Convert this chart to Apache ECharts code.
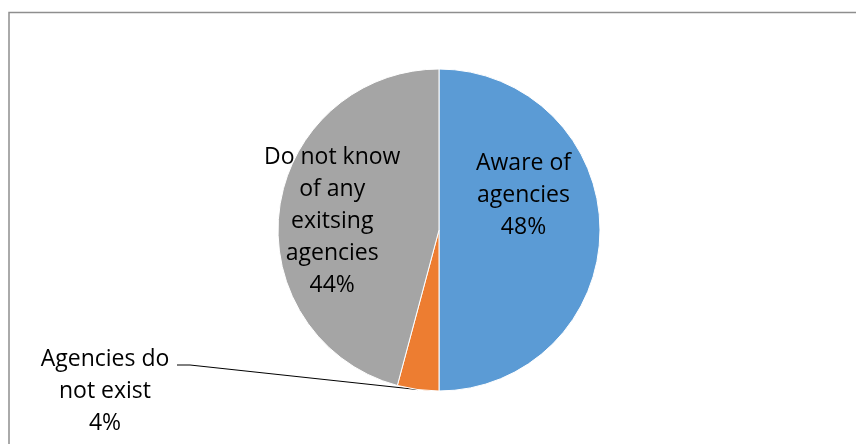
<!DOCTYPE html>
<html>
<head>
<meta charset="utf-8">
<script src="https://cdn.jsdelivr.net/npm/echarts@6/dist/echarts.min.js"></script>
<style>
  html, body { margin: 0; padding: 0; background: #fff; }
  #chart { width: 856px; height: 444px; }
</style>
</head>
<body>
<div id="chart"></div>
<script>
// Survey responses on awareness of agencies
const categories = ['Aware of\nagencies', 'Agencies do\nnot exist', 'Do not know\nof any\nexitsing\nagencies'];
const shares = [48, 4, 44];
const colors = ['#5B9BD5', '#ED7D31', '#A5A5A5'];

const FONT = '"Open Sans", "Liberation Sans", sans-serif';

const chart = echarts.init(document.getElementById('chart'), null, { renderer: 'canvas' });

const labelBase = {
  color: '#000',
  fontFamily: FONT,
  fontSize: 23,
  lineHeight: 32,
  align: 'center',
  formatter: p => p.name + '\n' + p.value + '%'
};

const data = categories.map((name, i) => {
  const item = { name, value: shares[i], itemStyle: { color: colors[i] } };
  if (i === 0) {
    item.label = Object.assign({}, labelBase, { position: 'inside', offset: [1, -35] });
    item.labelLine = { show: false };
  } else if (i === 2) {
    item.label = Object.assign({}, labelBase, { position: 'inside', offset: [-24, 2] });
    item.labelLine = { show: false };
  } else {
    item.label = Object.assign({}, labelBase, { position: 'outside' });
    item.labelLine = { show: true, lineStyle: { color: '#000', width: 1 } };
  }
  return item;
});

chart.setOption({
  backgroundColor: '#fff',
  animation: false,
  graphic: [{
    type: 'rect',
    shape: { x: 9, y: 12.5, width: 900, height: 500 },
    style: { fill: 'none', stroke: '#8e8e8e', lineWidth: 1.5 },
    silent: true
  }],
  series: [{
    type: 'pie',
    center: [439, 230],
    radius: [0, 161],
    startAngle: 90,
    clockwise: true,
    avoidLabelOverlap: false,
    itemStyle: { borderColor: '#fff', borderWidth: 1 },
    data,
    labelLayout: function (params) {
      if (params.dataIndex !== 1) return;
      const start = params.labelLinePoints[0];
      const cx = 105, cy = 391;
      const elbowY = 365;
      return {
        x: cx,
        y: cy,
        align: 'center',
        verticalAlign: 'middle',
        labelLinePoints: [start, [190, elbowY], [177, elbowY]]
      };
    }
  }]
});
</script>
</body>
</html>
